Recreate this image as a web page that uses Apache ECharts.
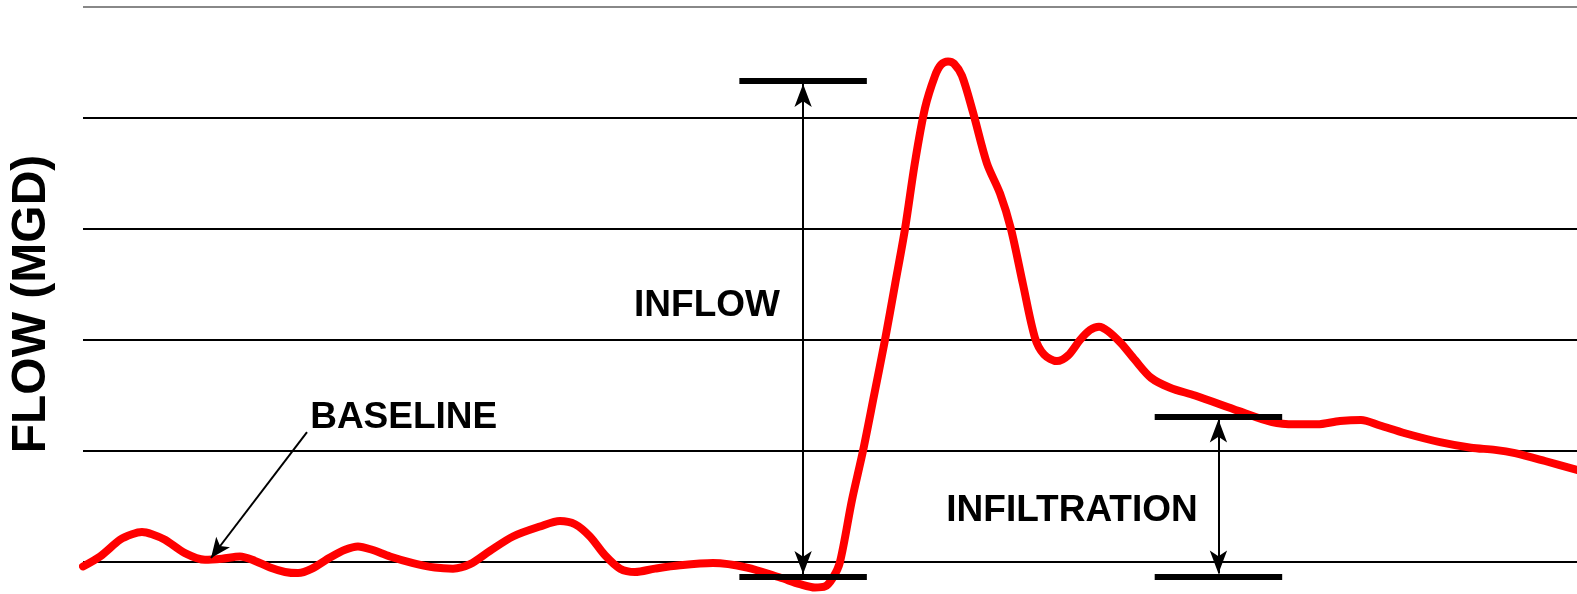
<!DOCTYPE html>
<html>
<head>
<meta charset="utf-8">
<script src="https://cdn.jsdelivr.net/npm/echarts@6/dist/echarts.min.js"></script>
<style>
html,body{margin:0;padding:0;background:#fff;}
#chart{width:1577px;height:594px;}
</style>
</head>
<body>
<div id="chart"></div>
<script>
// ---- data (time in arbitrary units, flow in MGD-relative units) ----
const time = [0.00, 1.71, 3.71, 4.92, 5.92, 6.93, 8.23, 10.24, 12.25, 13.96, 15.76, 17.27, 18.78, 20.28, 21.59, 22.99, 24.80, 26.31, 27.61, 29.02, 30.82, 33.13, 35.34, 37.15, 38.86, 40.86, 43.17, 45.88, 47.89, 49.40, 50.90, 52.41, 53.92, 55.42, 57.43, 59.94, 63.25, 66.67, 69.98, 71.99, 73.49, 74.50, 75.30, 76.00, 77.21, 78.31, 79.42, 80.52, 81.53, 82.53, 83.53, 84.54, 85.54, 86.14, 86.85, 87.45, 88.25, 89.36, 90.76, 92.07, 93.17, 94.38, 95.58, 96.49, 97.79, 98.90, 100.10, 101.10, 102.01, 102.91, 104.22, 105.62, 107.23, 109.14, 111.65, 116.06, 119.38, 121.69, 123.90, 126.20, 128.31, 130.22, 132.73, 136.24, 139.36, 141.77, 143.78, 146.79, 150.00];
const flow = [-0.04, 0.05, 0.20, 0.25, 0.27, 0.25, 0.20, 0.08, 0.02, 0.03, 0.05, 0.01, -0.05, -0.09, -0.10, -0.06, 0.04, 0.11, 0.14, 0.11, 0.05, -0.01, -0.05, -0.06, -0.02, 0.10, 0.23, 0.32, 0.37, 0.34, 0.23, 0.06, -0.06, -0.09, -0.06, -0.03, -0.01, -0.05, -0.14, -0.20, -0.23, -0.22, -0.14, 0.00, 0.56, 1.00, 1.50, 2.00, 2.50, 3.00, 3.60, 4.09, 4.38, 4.48, 4.51, 4.49, 4.38, 4.05, 3.59, 3.32, 3.00, 2.50, 2.02, 1.87, 1.81, 1.86, 2.00, 2.09, 2.12, 2.08, 1.97, 1.82, 1.66, 1.57, 1.50, 1.36, 1.26, 1.24, 1.24, 1.27, 1.28, 1.23, 1.16, 1.08, 1.03, 1.01, 0.98, 0.91, 0.83];

// axis range and gridline levels
const yMin = -0.25, yMax = 5, yStep = 0.25;
const gridLevels = [0, 1, 2, 3, 4, 5];

// annotation bars: [xStart, xEnd, level]
const inflowBars = [[65.9, 78.7, 4.34], [65.9, 78.7, -0.13]];
const infiltrationBars = [[107.6, 120.4, 1.31], [107.6, 120.4, -0.13]];
// double arrows: [x, yTop, yBottom]
const inflowArrow = [72.3, 4.306, -0.108];
const infiltrationArrow = [114.0, 1.284, -0.104];
// baseline pointer: [xFrom, yFrom, xTo, yTo]
const baselineArrow = [22.49, 1.171, 12.85, 0.036];

// text labels
const labelNames = ['INFLOW', 'INFILTRATION', 'BASELINE'];
const labelX = [62.65, 99.3, 32.2];
const labelY = [2.306, 0.459, 1.297];
const yTitle = 'FLOW (MGD)';

const FONT = "'Liberation Sans', Arial, Helvetica, sans-serif";

const chart = echarts.init(document.getElementById('chart'), null, {renderer: 'canvas'});

const barStyle = {color: '#000', width: 6, type: 'solid', cap: 'butt'};
const arrowStyle = {color: '#000', width: 2, type: 'solid'};

function bar(b) {
  return [
    {coord: [b[0], b[2]], symbol: 'none', lineStyle: barStyle},
    {coord: [b[1], b[2]], symbol: 'none', lineStyle: barStyle}
  ];
}
function dbl(a) {
  return [
    {coord: [a[0], a[1]], symbol: 'arrow', symbolSize: [13, 23], lineStyle: arrowStyle},
    {coord: [a[0], a[2]], symbol: 'arrow', symbolSize: [13, 23], lineStyle: arrowStyle}
  ];
}

const markData = []
  .concat(inflowBars.map(bar))
  .concat(infiltrationBars.map(bar))
  .concat([dbl(inflowArrow), dbl(infiltrationArrow)])
  .concat([[
    {coord: [baselineArrow[0], baselineArrow[1]], symbol: 'none', lineStyle: arrowStyle},
    {coord: [baselineArrow[2], baselineArrow[3]], symbol: 'arrow', symbolSize: [13, 20], lineStyle: arrowStyle}
  ]]);

// one colour per axis tick: black on gridline levels, grey on the top one, none elsewhere
const gridColors = [];
for (let i = 0; i <= Math.round((yMax - yMin) / yStep); i++) {
  const v = Math.round((yMin + i * yStep) * 100) / 100;
  gridColors.push(gridLevels.indexOf(v) < 0 ? 'rgba(0,0,0,0)' : (v === yMax ? '#888888' : '#000000'));
}

chart.setOption({
  animation: false,
  backgroundColor: '#ffffff',
  grid: {left: 83, right: 0, top: 7, bottom: 4.25},
  xAxis: {
    type: 'value', min: 0, max: 150,
    axisLine: {show: false}, axisTick: {show: false}, axisLabel: {show: false}, splitLine: {show: false}
  },
  yAxis: {
    type: 'value', min: yMin, max: yMax, interval: yStep,
    axisLine: {show: false}, axisTick: {show: false}, axisLabel: {show: false},
    splitLine: {show: true, lineStyle: {color: gridColors, width: 2, type: 'solid'}}
  },
  series: [
    {
      type: 'line',
      data: time.map((t, i) => [t, flow[i]]),
      smooth: 0.3,
      symbol: 'none',
      clip: false,
      lineStyle: {color: '#ff0000', width: 8, cap: 'round', join: 'round'},
      z: 3,
      silent: true,
      markLine: {
        silent: true,
        animation: false,
        symbol: 'none',
        label: {show: false},
        emphasis: {disabled: true},
        lineStyle: arrowStyle,
        data: markData
      }
    }
  ]
});

// text labels placed through the chart's own axes
const texts = labelNames.map((n, i) => {
  const p = chart.convertToPixel({gridIndex: 0}, [labelX[i], labelY[i]]);
  return {
    type: 'text', x: p[0], y: p[1], silent: true,
    style: {
      text: n, fill: '#000', font: 'bold 37px ' + FONT,
      align: 'center', verticalAlign: 'middle', textAlign: 'center', textVerticalAlign: 'middle'
    }
  };
});
texts.push({
  type: 'text', x: 32, y: 304, rotation: Math.PI / 2, silent: true,
  style: {
    text: yTitle, fill: '#000', font: 'bold 48px ' + FONT,
    align: 'center', verticalAlign: 'middle', textAlign: 'center', textVerticalAlign: 'middle'
  }
});
chart.setOption({graphic: texts});
</script>
</body>
</html>
